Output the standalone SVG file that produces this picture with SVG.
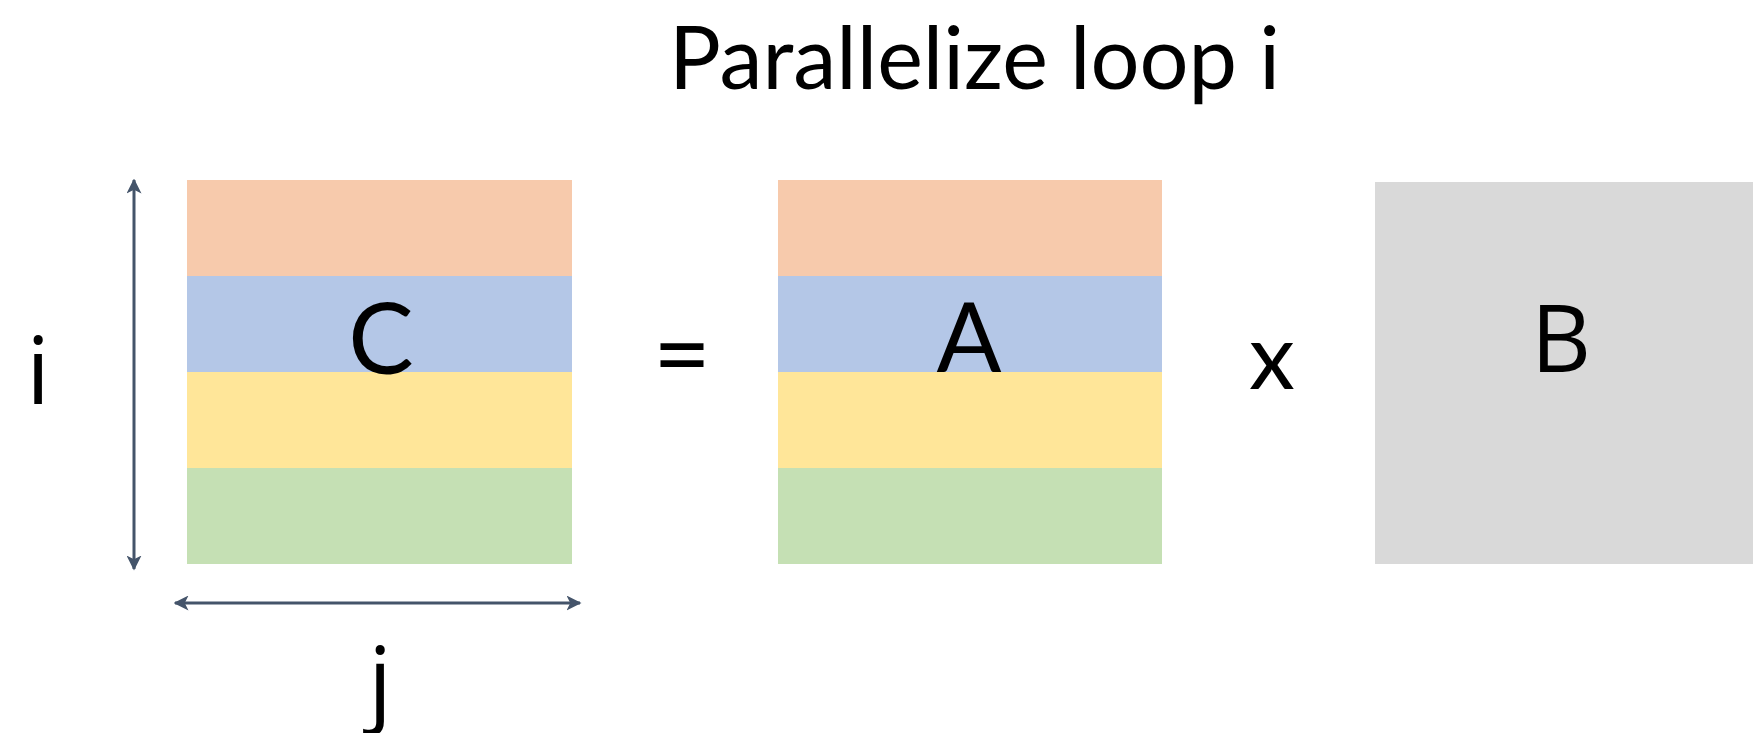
<svg xmlns="http://www.w3.org/2000/svg" width="1753" height="733" viewBox="0 0 1753 733">
<style>
.g{font-family:"Lato","Liberation Sans",sans-serif;fill:#000}
.s{font-family:"Open Sans","Noto Sans","Liberation Sans",sans-serif;fill:#000}
.o{fill:#F7CAAC}.b{fill:#B4C7E7}.y{fill:#FFE699}.gr{fill:#C5E0B4}
.ar{stroke:#44546A;stroke-width:3;fill:none}
</style>
<defs>
<marker id="ah" viewBox="0 0 10 10" refX="9" refY="5" markerWidth="5" markerHeight="5" orient="auto-start-reverse" markerUnits="strokeWidth">
<path d="M0,0 L10,5 L0,10 L2.5,5 Z" fill="#44546A"/>
</marker>
</defs>
<rect width="1753" height="733" fill="#fff"/>
<g id="title"><text class="g" x="669" y="89" font-size="88" textLength="611" lengthAdjust="spacingAndGlyphs">Parallelize loop i</text></g>
<g id="matrixC">
<rect class="o" x="187" y="180" width="385" height="96"/>
<rect class="b" x="187" y="276" width="385" height="96"/>
<rect class="y" x="187" y="372" width="385" height="96"/>
<rect class="gr" x="187" y="468" width="385" height="96"/>
<text class="g" x="381" y="374" font-size="98" text-anchor="middle">C</text>
</g>
<g id="equals"><text class="g" x="682" y="389" font-size="100" text-anchor="middle">=</text></g>
<g id="matrixA">
<rect class="o" x="778" y="180" width="384" height="96"/>
<rect class="b" x="778" y="276" width="384" height="96"/>
<rect class="y" x="778" y="372" width="384" height="96"/>
<rect class="gr" x="778" y="468" width="384" height="96"/>
<text class="g" x="969" y="372" font-size="96" text-anchor="middle">A</text>
</g>
<g id="times"><text class="g" x="1272" y="389" font-size="92" text-anchor="middle">x</text></g>
<g id="matrixB">
<rect x="1375" y="182" width="378" height="382" fill="#D9D9D9"/>
<text class="s" x="1561" y="372" font-size="93" text-anchor="middle">B</text>
</g>
<g id="labelI"><text class="s" x="38" y="404" font-size="94" text-anchor="middle">i</text></g>
<g id="labelJ"><text class="s" x="380" y="714" font-size="94" text-anchor="middle">j</text></g>
<g id="connectors">
<line class="ar" x1="134" y1="180" x2="134" y2="569" marker-start="url(#ah)" marker-end="url(#ah)"/>
<line class="ar" x1="175" y1="603" x2="580" y2="603" marker-start="url(#ah)" marker-end="url(#ah)"/>
</g>
</svg>
